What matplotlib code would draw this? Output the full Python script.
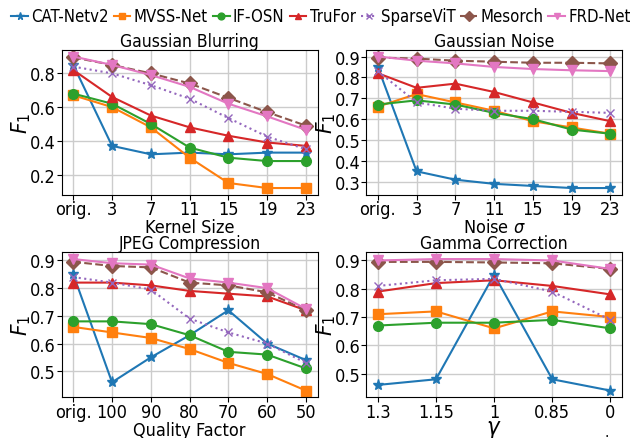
import numpy as np
import matplotlib
matplotlib.use('Agg')
import matplotlib.pyplot as plt
from matplotlib.ticker import MultipleLocator

methods = ['CAT-Netv2', 'MVSS-Net', 'IF-OSN', 'TruFor', 'SparseViT', 'Mesorch', 'FRD-Net']
colors = ['tab:blue', 'tab:orange', 'tab:green', 'tab:red', 'tab:purple', 'tab:brown', 'tab:pink']
markers = ['*', 's', 'o', '^', 'x', 'D', 'v']
styles = ['-', '-', '-', '-', ':', '--', '-']

# Gaussian blurring
blur_ticks = ['orig.', '3', '7', '11', '15', '19', '23']
blur = [
    [0.85, 0.37, 0.32, 0.33, 0.32, 0.33, 0.33],
    [0.67, 0.60, 0.48, 0.30, 0.15, 0.12, 0.12],
    [0.68, 0.62, 0.50, 0.36, 0.30, 0.28, 0.28],
    [0.82, 0.66, 0.55, 0.48, 0.43, 0.39, 0.37],
    [0.84, 0.80, 0.73, 0.65, 0.535, 0.425, 0.35],
    [0.895, 0.85, 0.80, 0.74, 0.655, 0.57, 0.49],
    [0.90, 0.85, 0.79, 0.72, 0.62, 0.545, 0.465],
]

# Gaussian noise
noise_ticks = ['orig.', '3', '7', '11', '15', '19', '23']
noise = [
    [0.85, 0.35, 0.31, 0.29, 0.28, 0.27, 0.27],
    [0.66, 0.72, 0.68, 0.64, 0.59, 0.56, 0.53],
    [0.67, 0.69, 0.67, 0.63, 0.60, 0.55, 0.53],
    [0.82, 0.75, 0.77, 0.73, 0.68, 0.63, 0.59],
    [0.83, 0.68, 0.65, 0.64, 0.64, 0.635, 0.63],
    [0.895, 0.89, 0.88, 0.875, 0.87, 0.87, 0.867],
    [0.90, 0.88, 0.867, 0.85, 0.84, 0.834, 0.83],
]

# JPEG compression
jpeg_ticks = ['orig.', '100', '90', '80', '70', '60', '50']
jpeg = [
    [0.85, 0.46, 0.55, 0.63, 0.72, 0.60, 0.54],
    [0.66, 0.64, 0.62, 0.58, 0.53, 0.49, 0.43],
    [0.68, 0.68, 0.67, 0.63, 0.57, 0.56, 0.51],
    [0.82, 0.82, 0.81, 0.79, 0.78, 0.77, 0.72],
    [0.84, 0.82, 0.795, 0.69, 0.64, 0.60, 0.53],
    [0.895, 0.88, 0.875, 0.82, 0.81, 0.785, 0.72],
    [0.905, 0.89, 0.885, 0.835, 0.82, 0.80, 0.725],
]

# Gamma correction
gamma_ticks = ['1.3', '1.15', '1', '0.85', '0']
gamma = [
    [0.46, 0.48, 0.85, 0.48, 0.44],
    [0.71, 0.72, 0.66, 0.72, 0.70],
    [0.67, 0.68, 0.68, 0.69, 0.66],
    [0.79, 0.82, 0.83, 0.81, 0.78],
    [0.81, 0.83, 0.835, 0.79, 0.69],
    [0.895, 0.895, 0.893, 0.89, 0.87],
    [0.90, 0.905, 0.905, 0.90, 0.87],
]

panels = [
    ('Gaussian Blurring', 'Kernel Size', blur_ticks, blur, 0.2),
    ('Gaussian Noise', r'Noise $\sigma$', noise_ticks, noise, 0.1),
    ('JPEG Compression', 'Quality Factor', jpeg_ticks, jpeg, 0.1),
    ('Gamma Correction', r'$\gamma$', gamma_ticks, gamma, 0.1),
]

plt.rcParams['font.family'] = ['DejaVu Sans']
plt.rcParams['font.stretch'] = 'condensed'

fig, axes = plt.subplots(2, 2, figsize=(6.42, 4.39), dpi=100)
fig.subplots_adjust(left=0.096, right=0.969, bottom=0.093, top=0.884,
                    wspace=0.19, hspace=0.40)

for ax, (title, xlabel, ticks, data, step) in zip(axes.flat, panels):
    x = np.arange(len(ticks))
    for i, name in enumerate(methods):
        ms = 8 if markers[i] == '*' else 7
        if markers[i] == 'x':
            ms = 6
        ax.plot(x, data[i], linestyle=styles[i], marker=markers[i], color=colors[i],
                markersize=ms, linewidth=1.5, label=name)
    ax.set_xticks(x)
    ax.set_xticklabels(ticks)
    ax.yaxis.set_major_locator(MultipleLocator(step))
    ax.set_title(title, fontsize=12.5, pad=3)
    if xlabel == r'$\gamma$':
        ax.set_xlabel(xlabel, fontsize=17, labelpad=-3)
    else:
        ax.set_xlabel(xlabel, fontsize=13, labelpad=0)
    ax.set_ylabel(r'$F_1$', fontsize=16, labelpad=-2)
    ax.grid(True, color='#cccccc', linewidth=1)
    ax.tick_params(labelsize=13, pad=0.5)

fig.text(0.942, 0.005, '.', fontsize=11)

handles, labels = axes[0, 0].get_legend_handles_labels()
fig.legend(handles, labels, loc='upper center', bbox_to_anchor=(0.5, 1.015), ncol=7,
           frameon=False, handlelength=1.0, handletextpad=0.2, columnspacing=0.3,
           fontsize=12, markerscale=0.7)

fig.savefig('out.png', dpi=100)
